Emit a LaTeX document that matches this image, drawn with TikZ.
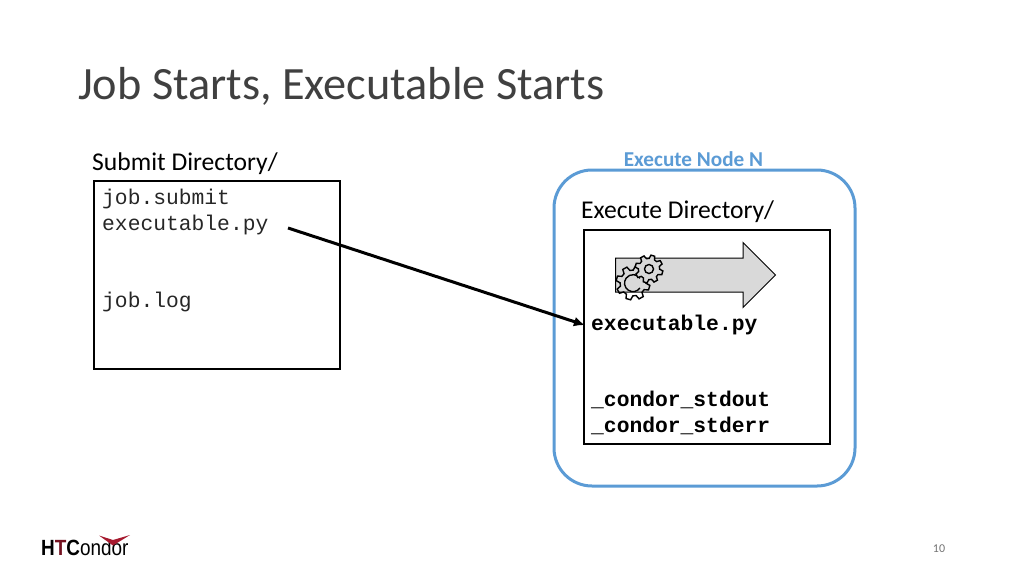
\documentclass[tikz,border=0pt]{standalone}
\usepackage{fontspec}
\setmainfont{Carlito}
\setsansfont{Liberation Sans}
\setmonofont{Liberation Mono}
\usetikzlibrary{positioning,arrows.meta,shapes.arrows,calc}
\definecolor{nodeblue}{HTML}{5B9BD5}
\definecolor{condorred}{HTML}{A6192E}
\tikzset{
  dirbox/.style={rectangle, draw=black, line width=2pt, inner sep=0pt},
  dirlabel/.style={inner sep=0pt, font=\fontsize{25.6}{25.6}\selectfont},
  filename/.style={inner sep=0pt, anchor=west, text=black!85, font=\fontsize{21.3}{21.3}\selectfont\ttfamily},
  runname/.style={filename, text=black, font=\fontsize{21.3}{21.3}\selectfont\ttfamily\bfseries},
  connect/.style={-{Latex[length=11pt,width=10pt]}, line width=3pt, shorten >=-2pt},
  gearline/.style={draw=black, line width=1.4pt}
}
\newcommand{\gearicon}[4]{%
  \draw[gearline, #4] ($(#1,#2)+(8:#3)$)
    \foreach \a in {0,45,...,315} {
      -- ($(#1,#2)+(\a+8:#3)$) -- ($(#1,#2)+(\a+24:#3)$)
      -- ($(#1,#2)+(\a+31:0.76*#3)$) -- ($(#1,#2)+(\a+46:0.76*#3)$)
    } -- cycle;
}
\begin{document}
\begin{tikzpicture}[x=1pt,y=-1pt]
  \useasboundingbox (0,0) rectangle (1024,576);
  \node[anchor=west, inner sep=0pt, font=\fontsize{46.3}{46.3}\selectfont, text=black!75] (Title) at (78,86) {Job Starts, Executable Starts};

  % submit side
  \node[dirbox, minimum width=246pt, minimum height=188pt] (SubmitBox) at (217,275) {};
  \node[dirlabel, anchor=west] (SubmitLabel) at (92,164) {Submit Directory/};
  \node[filename] (SubmitJob) at (102,198.5) {job.submit};
  \node[filename] (SubmitExe) at (102,224.5) {executable.py};
  \node[filename] (SubmitLog) at (102,301.5) {job.log};

  % execute side
  \node[rectangle, rounded corners=38pt, draw=nodeblue, line width=3pt, minimum width=301pt, minimum height=316pt] (NodeBox) at (704.5,328) {};
  \node[inner sep=0pt, font=\fontsize{21.2}{21.2}\selectfont\bfseries, text=nodeblue] (NodeLabel) at (693.5,159) {Execute Node N};
  \node[dirlabel, anchor=west] (ExecLabel) at (581,212) {Execute Directory/};
  \node[dirbox, minimum width=246pt, minimum height=214pt] (ExecBox) at (707,337) {};
  \node[single arrow, draw=black, line width=1pt, fill=black!15, inner xsep=0pt, inner ysep=16.5pt,
    minimum height=160pt, minimum width=64pt, single arrow head extend=15.5pt,
    single arrow tip angle=90] (RunArrow) at (687,275) {};
  \gearicon{633}{283}{17}{}
  \draw[line width=1.4pt] (640,288) arc (35:325:8.5);
  \gearicon{649}{269}{14}{fill=black!15}
  \draw[line width=1.4pt] (649,269) circle (4.5);
  \node[runname] (ExecFile) at (591,324.5) {executable.py};
  \node[runname] (ExecOut) at (591,400) {\_condor\_stdout};
  \node[runname] (ExecErr) at (591,426) {\_condor\_stderr};

  \coordinate (SubmitOut) at (288,228);
  \coordinate (ExecIn) at (ExecBox.west |- ExecFile);
  \path (SubmitOut) edge [connect] (ExecIn);

  % footer
  \node[anchor=base west, inner sep=0pt, xscale=0.86, transform shape, font=\fontsize{22}{22}\selectfont\sffamily] (LogoText) at (41,555) {\textbf{H\textcolor{condorred!70!black}{T}C}ondor};
  \fill[condorred] (99,535.5) -- (113,540) -- (130,535) -- (113,545.5) -- cycle;
  \node[inner sep=0pt, font=\fontsize{12}{12}\selectfont, text=black!55] (PageNum) at (939,549) {10};
\end{tikzpicture}
\end{document}
